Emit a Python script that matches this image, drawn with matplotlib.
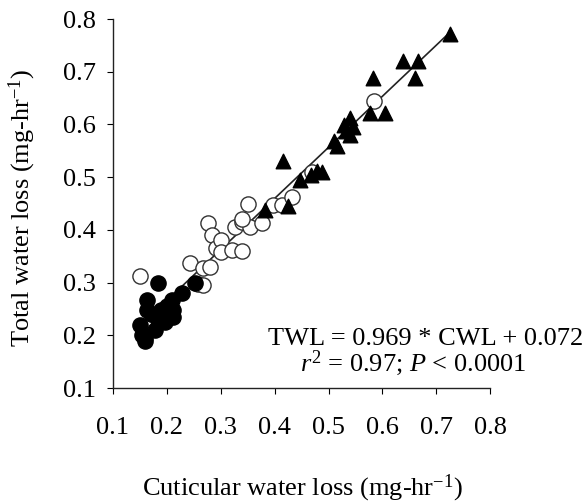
import matplotlib
matplotlib.use("Agg")
import matplotlib.pyplot as plt
import numpy as np

plt.rcParams['font.family'] = ['Liberation Serif', 'DejaVu Serif']
plt.rcParams['mathtext.fontset'] = 'custom'
plt.rcParams['mathtext.rm'] = 'Liberation Serif'
plt.rcParams['mathtext.it'] = 'Liberation Serif:italic'

# Filled circles
fc_x = [0.150, 0.154, 0.159, 0.163, 0.163, 0.178, 0.184, 0.184, 0.190, 0.211, 0.211,
        0.209, 0.228, 0.252, 0.170, 0.196, 0.200, 0.160]
fc_y = [0.220, 0.200, 0.190, 0.267, 0.248, 0.210, 0.229, 0.300, 0.248, 0.248, 0.235,
        0.267, 0.280, 0.300, 0.240, 0.225, 0.255, 0.195]
# Open circles
oc_x = [0.150, 0.243, 0.258, 0.267, 0.267, 0.280, 0.276, 0.284, 0.292, 0.300, 0.300,
        0.320, 0.326, 0.339, 0.339, 0.350, 0.354, 0.376, 0.397, 0.413, 0.432, 0.470,
        0.585, 0.340]
oc_y = [0.312, 0.337, 0.298, 0.295, 0.328, 0.330, 0.413, 0.390, 0.365, 0.381, 0.358,
        0.362, 0.405, 0.415, 0.360, 0.450, 0.405, 0.413, 0.447, 0.447, 0.462, 0.510,
        0.645, 0.420]
# Filled triangles
tr_x = [0.725, 0.638, 0.666, 0.660, 0.582, 0.605, 0.577, 0.540, 0.528, 0.533, 0.545,
        0.540, 0.510, 0.516, 0.415, 0.478, 0.468, 0.447, 0.382, 0.425, 0.488]
tr_y = [0.772, 0.720, 0.720, 0.688, 0.688, 0.622, 0.622, 0.612, 0.598, 0.588, 0.595,
        0.580, 0.568, 0.560, 0.530, 0.512, 0.505, 0.495, 0.438, 0.445, 0.510]

slope, intercept = 0.969, 0.072
line_x = [0.15, 0.725]
ticks = ['0.1', '0.2', '0.3', '0.4', '0.5', '0.6', '0.7', '0.8']

FS = 19

fig = plt.figure(figsize=(5.87, 5.03), dpi=100)
ax = fig.add_axes([0.1925, 0.2286, 0.6425, 0.7336])

lx = np.array(line_x)
ax.plot(lx, slope * lx + intercept, color='#222222', lw=1.2, zorder=1)
ax.scatter(oc_x, oc_y, s=120, facecolors='white', edgecolors='#333333', linewidths=1.0, zorder=2)
ax.scatter(fc_x, fc_y, s=120, color='black', zorder=3)
ax.scatter(tr_x, tr_y, s=110, marker='^', color='black', zorder=3)

ax.set_xlim(0.1, 0.8)
ax.set_ylim(0.1, 0.8)
ax.set_xticks([float(t) for t in ticks])
ax.set_yticks([float(t) for t in ticks])
ax.set_xticklabels(ticks)
ax.set_yticklabels(ticks)
ax.spines['top'].set_visible(False)
ax.spines['right'].set_visible(False)
for s in ['left', 'bottom']:
    ax.spines[s].set_color('#222222')
    ax.spines[s].set_linewidth(1.0)
ax.tick_params(axis='x', direction='out', length=4, pad=17, labelsize=FS)
ax.tick_params(axis='y', direction='out', length=4, pad=8, labelsize=FS)

fig.text(302 / 587, 1 - 488 / 503, 'Cuticular water loss (mg-hr$^{\\mathregular{-1}}$)',
         fontsize=FS, ha='center', va='center')
fig.text(22 / 587, 1 - 208 / 503, 'Total water loss (mg-hr$^{\\mathregular{-1}}$)',
         fontsize=FS, ha='center', va='center', rotation=90)

ax.text(0.972, 0.1816, 'TWL = 0.969 * CWL + 0.072', fontsize=FS, ha='right', va='baseline',
        clip_on=False)
ax.text(0.868, 0.132, '$r^2$ = 0.97; $P$ < 0.0001', fontsize=FS, ha='right', va='baseline',
        clip_on=False)

fig.savefig('out.png', dpi=100)
